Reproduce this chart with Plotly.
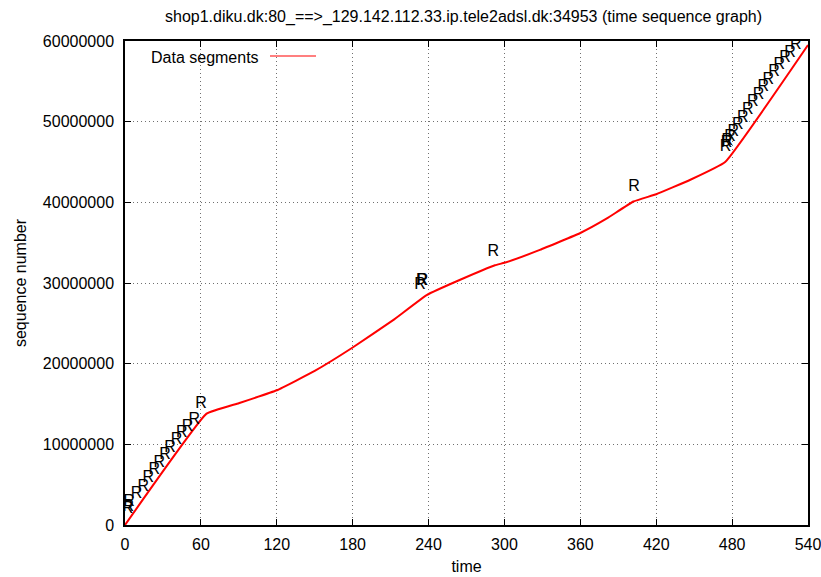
import plotly.graph_objects as go

# Data segments (time in s, sequence number)
seg_time = [0, 64.5, 90, 120, 150, 180, 212, 238.5, 265, 292.5, 300, 328, 360,
            381, 402, 420, 447, 474.5, 540]
seg_seq = [0, 13.8e6, 15.1e6, 16.7e6, 19.1e6, 22.0e6, 25.4e6, 28.5e6, 30.4e6,
           32.2e6, 32.5e6, 34.1e6, 36.2e6, 38.0e6, 40.1e6, 41.0e6, 42.8e6,
           45.0e6, 59.5e6]

# Retransmission markers
r_time = [2.0, 2.6, 3.2, 9.2, 14.5, 18.4, 23.2, 27.1, 31.6, 35.6, 40.8, 44.8,
          49.5, 54.8, 60.1,
          233.2, 234.6, 235.3,
          291.2, 402.4,
          474.8, 475.5, 476.2, 478.3, 481.0, 484.4, 488.4, 492.3, 496.3, 500.8,
          504.7, 508.6, 513.1, 517.3, 521.8, 525.8, 530.3]
r_seq = [2.0e6, 2.25e6, 2.8e6, 3.9e6, 4.75e6, 5.8e6, 6.8e6, 7.65e6, 8.7e6,
         9.5e6, 10.5e6, 11.4e6, 12.2e6, 13.0e6, 15.0e6,
         29.75e6, 30.2e6, 30.3e6,
         33.9e6, 41.9e6,
         46.8e6, 47.3e6, 47.6e6, 48.1e6, 48.75e6, 49.6e6, 50.5e6, 51.4e6,
         52.5e6, 53.3e6, 54.3e6, 55.2e6, 56.1e6, 57.0e6, 57.9e6, 58.5e6, 59.5e6]

x_ticks = [0, 60, 120, 180, 240, 300, 360, 420, 480, 540]
y_ticks = [0, 10000000, 20000000, 30000000, 40000000, 50000000, 60000000]

FONT = "Liberation Sans, Arial, sans-serif"
FS = 16

fig = go.Figure()
fig.add_trace(go.Scatter(x=seg_time, y=seg_seq, mode="lines",
                         line=dict(color="#ff0000", width=2, shape="spline",
                                   smoothing=0.3),
                         name="Data segments", showlegend=False,
                         hoverinfo="skip"))
fig.add_trace(go.Scatter(x=r_time, y=r_seq, mode="text",
                         text=["R"] * len(r_time),
                         textposition="middle center",
                         textfont=dict(family=FONT, size=16, color="#000000"),
                         showlegend=False, hoverinfo="skip"))

axis_common = dict(
    showline=True, linecolor="black", linewidth=1.5, mirror="allticks",
    ticks="inside", ticklen=6, tickwidth=1, tickcolor="black",
    showgrid=True, gridcolor="#707070", gridwidth=1, griddash="1px,3px",
    zeroline=False, automargin=False, ticklabeloverflow="allow",
    tickfont=dict(family=FONT, size=FS, color="black"),
)

fig.update_layout(
    width=821, height=577,
    margin=dict(l=125, r=13, t=41, b=52),
    paper_bgcolor="white", plot_bgcolor="white",
    xaxis=dict(range=[0, 540], tickvals=x_ticks,
               ticktext=[str(v) for v in x_ticks],
               title=dict(text="time",
                          font=dict(family=FONT, size=FS, color="black"),
                          standoff=9),
               ticklabelstandoff=4,
               **axis_common),
    yaxis=dict(range=[0, 60000000], tickvals=y_ticks,
               ticktext=[str(v) for v in y_ticks],
               title=dict(text="sequence number",
                          font=dict(family=FONT, size=FS, color="black"),
                          standoff=12),
               ticklabelstandoff=6,
               **axis_common),
    annotations=[
        dict(text="shop1.diku.dk:80_==>_129.142.112.33.ip.tele2adsl.dk:34953 (time sequence graph)",
             xref="paper", yref="paper", x=(163 - 125) / 683, xanchor="left",
             y=1 + (41 - 17) / 484, yanchor="middle", showarrow=False,
             font=dict(family=FONT, size=FS, color="black")),
        dict(text="Data segments", xref="paper", yref="paper",
             x=(261 - 125) / 683, xanchor="right",
             y=(525 - 57) / 484, yanchor="middle", showarrow=False,
             font=dict(family=FONT, size=FS, color="black")),
    ],
    shapes=[
        dict(type="line", xref="paper", yref="paper",
             x0=(270 - 125) / 683, x1=(316 - 125) / 683,
             y0=(525 - 56) / 484, y1=(525 - 56) / 484,
             line=dict(color="#ff0000", width=1.2)),
    ],
)

fig.write_html("out.html",
               config={"displayModeBar": False},
               post_script="document.body.style.margin='0px';"
                           "document.body.style.overflow='hidden';")
